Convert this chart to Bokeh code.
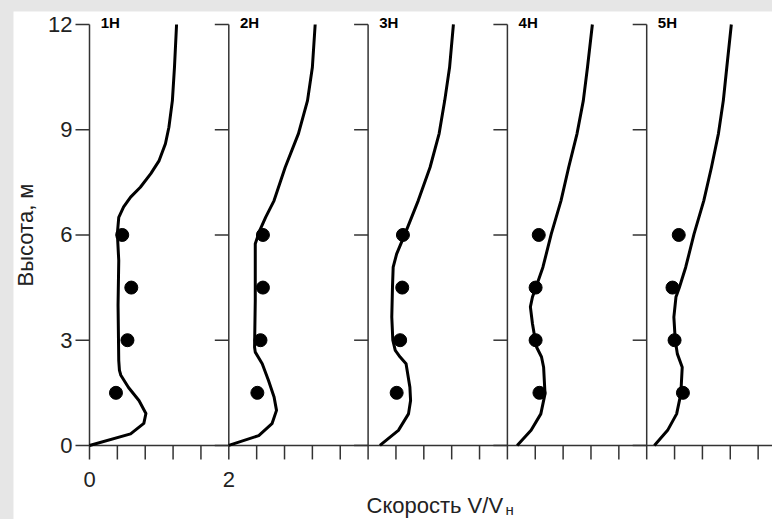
import numpy as np
from bokeh.plotting import figure
from bokeh.models import Range1d
from bokeh.layouts import column
from bokeh.embed import file_html
from bokeh.resources import INLINE
from bokeh.core.properties import value

# ---------------- data ----------------
panel_labels = ["1H", "2H", "3H", "4H", "5H"]
panel_offsets = [0, 2, 4, 6, 8]
y_ticks = [0, 3, 6, 9, 12]
y_tick_texts = ["0", "3", "6", "9", "12"]
x_label_ticks = [0, 2]
x_label_texts = ["0", "2"]
x_ticks = [0, 0.4, 0.8, 1.2, 1.6, 2.0, 2.4, 2.8, 3.2, 3.6, 4.0, 4.4, 4.8,
           5.2, 5.6, 6.0, 6.4, 6.8, 7.2, 7.6, 8.0, 8.4, 8.8, 9.2, 9.6]
x_title = "Скорость V/V"
x_title_sub = "н"
y_title = "Высота, м"

point_heights = [1.5, 3.0, 4.5, 6.0]
points_1 = [0.38, 0.545, 0.60, 0.47]
points_2 = [0.41, 0.455, 0.49, 0.49]
points_3 = [0.41, 0.46, 0.49, 0.50]
points_4 = [0.46, 0.405, 0.405, 0.45]
points_5 = [0.52, 0.40, 0.37, 0.46]

curve1_h = [0, 0.33, 0.63, 0.91, 1.28, 1.65, 2.0, 2.14, 2.42, 4.0, 5.27, 6.04, 6.5, 6.8,
            7.08, 7.36, 7.75, 8.12, 8.6, 9.07, 9.83, 10.78, 12.0]
curve1_v = [0.0, 0.59, 0.78, 0.81, 0.71, 0.56, 0.45, 0.43, 0.42, 0.41, 0.42, 0.40, 0.42, 0.49,
            0.59, 0.73, 0.88, 1.0, 1.09, 1.14, 1.19, 1.22, 1.25]

curve2_h = [0, 0.28, 0.62, 1.0, 1.38, 1.85, 2.33, 2.66, 2.80, 4.13, 5.75, 6.13, 6.51, 6.98,
            7.93, 8.89, 9.83, 10.78, 12.0]
curve2_v = [0.0, 0.43, 0.62, 0.685, 0.65, 0.57, 0.48, 0.38, 0.37, 0.38, 0.38, 0.445, 0.53, 0.65,
            0.81, 1.0, 1.13, 1.2, 1.24]

curve3_h = [0, 0.43, 0.90, 1.28, 1.66, 2.33, 2.52, 2.71, 3.0, 3.66, 4.51, 5.08, 5.46, 6.03,
            6.98, 7.93, 8.89, 9.83, 10.78, 12.0]
curve3_v = [0.17, 0.435, 0.58, 0.61, 0.60, 0.545, 0.46, 0.39, 0.355, 0.34, 0.35, 0.36, 0.41, 0.53,
            0.72, 0.89, 1.02, 1.10, 1.17, 1.225]

curve4_h = [0, 0.43, 0.90, 1.47, 2.23, 2.52, 2.80, 3.0, 3.47, 3.95, 4.23, 4.51, 5.08, 6.03,
            6.98, 7.93, 8.89, 9.83, 10.78, 12.0]
curve4_v = [0.14, 0.34, 0.48, 0.54, 0.52, 0.49, 0.42, 0.40, 0.36, 0.33, 0.36, 0.41, 0.51, 0.63,
            0.77, 0.88, 1.0, 1.09, 1.15, 1.22]

curve5_h = [0, 0.43, 0.90, 1.47, 2.23, 2.61, 3.0, 3.66, 4.23, 4.51, 5.08, 6.03,
            6.98, 7.93, 8.89, 9.83, 10.78, 12.0]
curve5_v = [0.11, 0.30, 0.43, 0.49, 0.51, 0.44, 0.41, 0.39, 0.42, 0.47, 0.56, 0.68,
            0.82, 0.93, 1.03, 1.10, 1.15, 1.215]

curves = [(curve1_h, curve1_v), (curve2_h, curve2_v), (curve3_h, curve3_v),
          (curve4_h, curve4_v), (curve5_h, curve5_v)]
points = [points_1, points_2, points_3, points_4, points_5]

# ---------------- figure ----------------
AX = "#333333"
TXT = "#222222"
FONT = "Liberation Sans"
px_x = 69.65          # pixels per x unit
px_y = 35.08          # pixels per y unit
W, H = 759, 508
x_start = -76 / px_x
x_end = x_start + W / px_x
y_top = 12.37
y_bottom = y_top - H / px_y

p = figure(width=W, height=H, x_range=Range1d(x_start, x_end), y_range=Range1d(y_bottom, y_top),
           output_backend="svg", toolbar_location=None, x_axis_location=None, y_axis_location=None,
           min_border_left=0, min_border_right=0, min_border_top=0, min_border_bottom=0)
p.grid.visible = False
p.outline_line_color = None
p.background_fill_color = "white"
p.border_fill_color = "white"

tick_len_x = 14 / px_x
tick_len_y = 14 / px_y

# x axis along y = 0
p.segment(x0=[0], y0=[0], x1=[x_end], y1=[0], line_color=AX, line_width=1.5)
p.segment(x0=x_ticks, y0=[0] * len(x_ticks), x1=x_ticks, y1=[-tick_len_y] * len(x_ticks),
          line_color=AX, line_width=1.5)
p.text(x=x_label_ticks, y=[-0.97] * len(x_label_ticks), text=x_label_texts, text_font=value(FONT),
       text_font_size="22px", text_align="center", text_baseline="middle", text_color=TXT)
p.text(x=[3.977], y=[-1.72], text=[x_title], text_font=value(FONT), text_font_size="22px",
       text_align="left", text_baseline="middle", text_color=TXT)
p.text(x=[5.973], y=[-1.84], text=[x_title_sub], text_font=value(FONT), text_font_size="15px",
       text_align="left", text_baseline="middle", text_color=TXT)

# vertical axis of every panel, with ticks
for off in panel_offsets:
    p.segment(x0=[off], y0=[y_ticks[0]], x1=[off], y1=[y_ticks[-1]], line_color=AX, line_width=1.5)
    p.segment(x0=[off - tick_len_x] * len(y_ticks), y0=y_ticks, x1=[off] * len(y_ticks), y1=y_ticks,
              line_color=AX, line_width=1.5)

# tick labels and title of the height axis (first panel)
p.text(x=[-17 / px_x] * len(y_ticks), y=y_ticks, text=y_tick_texts, text_font=value(FONT),
       text_font_size="22px", text_align="right", text_baseline="middle", text_color=TXT)
p.text(x=[-64 / px_x], y=[6], text=[y_title], angle=np.pi / 2, text_font=value(FONT),
       text_font_size="22px", text_align="center", text_baseline="middle", text_color=TXT)

# curves, points and panel labels
for off, (h, v), pts, lab in zip(panel_offsets, curves, points, panel_labels):
    p.line(np.array(v) + off, h, line_color="black", line_width=3, line_join="round")
    p.scatter(np.array(pts) + off, point_heights, size=13, color="black")
    p.text(x=[off + 0.16], y=[12.06], text=[lab], text_font=value(FONT), text_font_style="bold",
           text_font_size="15px", text_baseline="middle", text_color="black")

p.margin = (11, 0, 0, 13)
layout = column(p, styles={"background-color": "#e6e6e6"})

open("out.html", "w").write(file_html(layout, INLINE))
